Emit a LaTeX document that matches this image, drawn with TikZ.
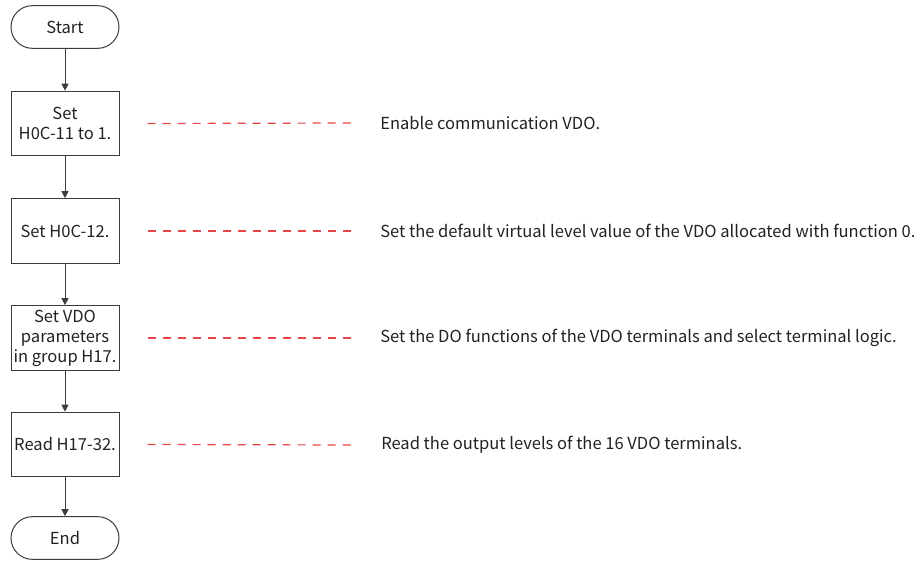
\documentclass[tikz,border=0pt]{standalone}
\usepackage{fontspec}
\setmainfont{Noto Sans CJK SC}
\usepackage{xcolor}
\usetikzlibrary{arrows.meta}

\definecolor{linegray}{RGB}{60,60,60}
\definecolor{dashred}{RGB}{230,70,70}
\definecolor{textgray}{RGB}{34,34,34}

\begin{document}
\begin{tikzpicture}[x=0.75pt, y=-0.75pt, >={Triangle[length=5.2pt,width=5.2pt]},
		font=\fontsize{12.4}{15}\selectfont, text=textgray]
		\tikzset{
			stepbox/.style={draw=linegray, line width=0.75pt, minimum width=81pt, minimum height=48.5pt, align=center, inner sep=0pt},
			terminal/.style={draw=linegray, line width=0.75pt, rounded corners=16pt, minimum width=81pt, minimum height=32pt},
			note/.style={anchor=west, inner sep=0pt},
			link/.style={dashred, line width=0.9pt, dash pattern=on 6pt off 5.25pt}
		}
		\useasboundingbox (0,0) rectangle (922,561);
		% flow
		\node[terminal] (start) at (65,27) {Start};
		\node[stepbox] (s1) at (65,123.5) {Set\\H0C-11 to 1.};
		\node[stepbox] (s2) at (65,231) {Set H0C-12.};
		\node[stepbox] (s3) at (65,338) {Set VDO\\parameters\\in group H17.};
		\node[stepbox] (s4) at (65,444.5) {Read H17-32.};
		\node[terminal] (end) at (65,538) {End};
		\draw[->, linegray, line width=0.75pt] (start) -- (s1);
		\draw[->, linegray, line width=0.75pt] (s1) -- (s2);
		\draw[->, linegray, line width=0.75pt] (s2) -- (s3);
		\draw[->, linegray, line width=0.75pt] (s3) -- (s4);
		\draw[->, linegray, line width=0.75pt] (s4) -- (end);
		% notes
		\node[note] (n1) at (380,123) {Enable communication VDO.};
		\node[note] (n2) at (380,231) {Set the default virtual level value of the VDO allocated with function 0.};
		\node[note] (n3) at (380,338) {Set the DO functions of the VDO terminals and select terminal logic.};
		\node[note] (n4) at (381,445) {Read the output levels of the 16 VDO terminals.};
		\draw[link] ([xshift=21pt]s1.east) -- ([xshift=-21pt]n1.west);
		\draw[link] ([xshift=21pt]s2.east) -- ([xshift=-21pt]n2.west);
		\draw[link] ([xshift=21pt]s3.east) -- ([xshift=-21pt]n3.west);
		\draw[link] ([xshift=21pt]s4.east) -- ([xshift=-21pt]n4.west);
	\end{tikzpicture}
\end{document}
